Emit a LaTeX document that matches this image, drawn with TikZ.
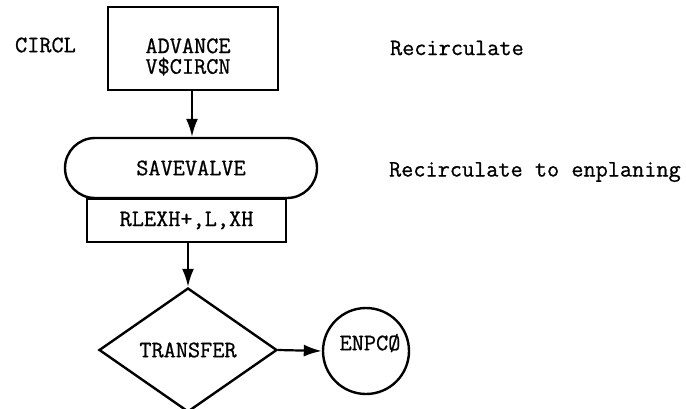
\documentclass[tikz,border=0pt]{standalone}
\usepackage{fontspec}
\newfontfamily\scanfont{Latin Modern Mono}[FakeBold=0.8]
\usepackage{tikz}
\usetikzlibrary{positioning,arrows.meta,shapes.geometric}

\begin{document}
\begin{tikzpicture}[x=0.5pt, y=-0.5pt, >={Latex[length=9pt,width=6pt]},
    every node/.style={font=\scanfont\fontsize{11.8}{10.3}\selectfont},
    flowline/.style={line width=1.1pt},
    blockbox/.style={draw, line width=1.2pt, inner sep=0pt}]
  \useasboundingbox (0,0) rectangle (686,408);
  \node[anchor=west] (circl) at (8,45) {CIRCL};
  \node[blockbox, minimum width=85pt, minimum height=41.5pt] (adv) at (193,48.5) {};
  \node[align=center] (advtxt) at (188,57) {ADVANCE\\V\$CIRCN};
  \node[anchor=west] (recirc) at (383,48) {Recirculate};
  \node[blockbox, rounded corners=15pt, minimum width=126pt, minimum height=30pt] (save) at (191,168) {SAVEVALVE};
  \node[anchor=west] (recircen) at (382,172) {Recirculate to enplaning};
  \node[blockbox, minimum width=99.5pt, minimum height=21.5pt] (rlexh) at (186.5,220.5) {RLEXH+,L,XH};
  \node[blockbox, diamond, minimum width=89pt, minimum height=62pt] (tr) at (188,350) {TRANSFER};
  \node[blockbox, circle, minimum size=43pt] (enpc) at (366,351) {};
  \node (enpctxt) at (370,343) {ENPCØ};
  \draw[->, flowline] (adv.south -| 192,0) -- (save.north -| 192,0);
  \draw[->, flowline] (rlexh.south -| tr.north) -- (tr.north);
  \draw[->, flowline] (tr.east) -- (enpc.west);
\end{tikzpicture}
\end{document}
